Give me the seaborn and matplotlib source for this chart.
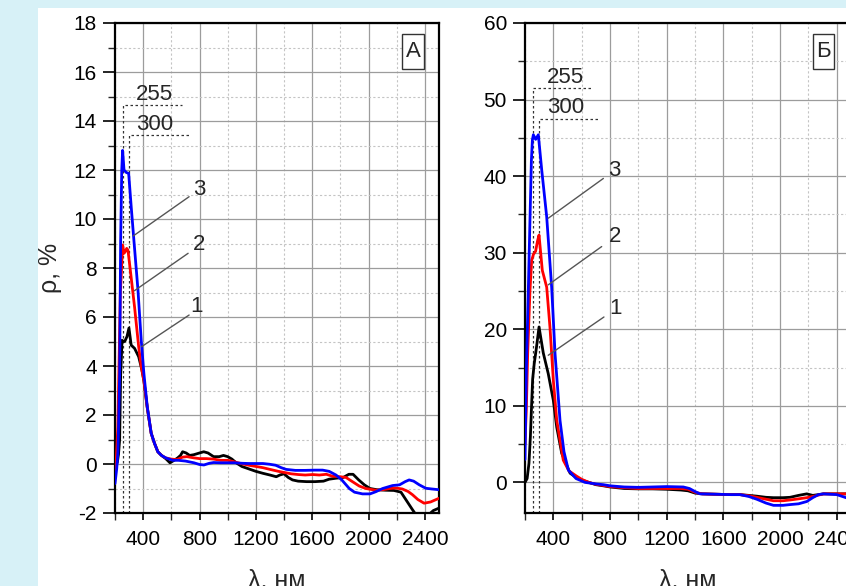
import numpy as np
import pandas as pd
import matplotlib
matplotlib.use("Agg")
import matplotlib.pyplot as plt
from matplotlib.patches import Rectangle
from matplotlib.ticker import MultipleLocator
import seaborn as sns

# ---- Spectra, panel А (ρ, %) ----
wl_a1 = [200, 216, 225, 233, 240, 250, 260, 269, 285, 299, 315, 339, 368, 391, 405, 429, 457, 480,
         504, 530, 560, 590, 620, 645, 665, 680, 705, 730, 760, 800, 830, 860, 900, 940, 970, 1000,
         1030, 1060, 1100, 1150, 1200, 1250, 1300, 1345, 1370, 1400, 1430, 1460, 1500, 1560, 1620,
         1680, 1720, 1770, 1820, 1860, 1890, 1930, 1970, 2010, 2060, 2120, 2180, 2230, 2270, 2310,
         2340, 2370, 2400, 2430, 2460, 2500]
rho_a1 = [0.05, 0.05, 0.4, 1.0, 3.6, 5.05, 5.0, 5.0, 5.2, 5.55, 4.85, 4.72, 4.38, 3.84, 3.4, 2.3, 1.25,
          0.85, 0.5, 0.35, 0.22, 0.05, 0.15, 0.25, 0.35, 0.5, 0.45, 0.35, 0.38, 0.45, 0.5, 0.45, 0.3,
          0.3, 0.35, 0.3, 0.2, 0.05, -0.1, -0.2, -0.3, -0.38, -0.45, -0.52, -0.45, -0.4, -0.55, -0.65,
          -0.7, -0.72, -0.72, -0.7, -0.62, -0.58, -0.55, -0.42, -0.42, -0.65, -0.85, -1.0, -1.05,
          -1.07, -1.08, -1.15, -1.5, -1.85, -2.1, -2.3, -2.35, -2.05, -1.9, -1.8]

wl_a2 = [200, 210, 220, 230, 238, 245, 254, 264, 273, 283, 292, 311, 339, 368, 386, 405, 429, 457, 480,
         504, 530, 560, 600, 640, 680, 710, 760, 800, 850, 900, 950, 1000, 1040, 1085, 1150, 1200,
         1250, 1300, 1360, 1415, 1450, 1500, 1550, 1603, 1650, 1700, 1745, 1800, 1840, 1880, 1934,
         1980, 2052, 2100, 2150, 2193, 2240, 2280, 2311, 2350, 2394, 2440, 2500]
rho_a2 = [-0.3, 0.3, 1.5, 4.5, 7.0, 7.8, 8.94, 8.6, 8.67, 8.8, 8.73, 7.8, 6.4, 4.79, 3.98, 3.4, 2.3,
          1.25, 0.85, 0.5, 0.35, 0.25, 0.2, 0.18, 0.28, 0.3, 0.25, 0.22, 0.22, 0.2, 0.15, 0.15, 0.1,
          0.03, -0.05, -0.1, -0.15, -0.22, -0.3, -0.36, -0.4, -0.43, -0.45, -0.43, -0.45, -0.42,
          -0.5, -0.52, -0.55, -0.7, -0.9, -1.0, -1.07, -1.05, -1.0, -0.98, -1.02, -1.12, -1.25,
          -1.45, -1.6, -1.55, -1.4]

wl_a3 = [200, 212, 221, 227, 233, 240, 248, 254, 264, 280, 297, 315, 334, 363, 386, 405, 429, 457, 480,
         504, 530, 560, 610, 650, 700, 760, 800, 831, 870, 900, 950, 1000, 1050, 1100, 1150, 1200,
         1250, 1297, 1340, 1380, 1415, 1480, 1550, 1620, 1674, 1720, 1769, 1810, 1863, 1900, 1957,
         2010, 2052, 2100, 2170, 2220, 2260, 2288, 2320, 2360, 2406, 2450, 2500]
rho_a3 = [-0.8, -0.2, 0.5, 2.0, 3.7, 9.1, 12.0, 12.8, 12.0, 11.9, 11.86, 10.5, 9.14, 7.1, 5.06, 3.7,
          2.34, 1.26, 0.85, 0.5, 0.35, 0.25, 0.15, 0.15, 0.12, 0.05, -0.02, -0.04, 0.03, 0.06, 0.05,
          0.05, 0.05, 0.03, 0.02, 0.02, 0.02, -0.01, -0.05, -0.15, -0.22, -0.26, -0.26, -0.25, -0.25,
          -0.3, -0.45, -0.65, -1.0, -1.15, -1.22, -1.22, -1.13, -1.0, -0.88, -0.85, -0.72, -0.65,
          -0.7, -0.85, -0.99, -1.02, -1.05]

# ---- Spectra, panel Б (ρ, %) ----
wl_b1 = [200, 215, 228, 238, 247, 254, 265, 280, 299, 329, 364, 400, 424, 459, 518, 565, 600, 650, 700,
         753, 800, 850, 900, 1000, 1100, 1200, 1300, 1350, 1400, 1450, 1550, 1650, 1717, 1780, 1835,
         1900, 1953, 2020, 2070, 2130, 2188, 2230, 2270, 2306, 2400, 2465, 2500]
rho_b1 = [0.0, 0.5, 2.5, 6.0, 10.3, 13.5, 15.5, 17.5, 20.3, 16.9, 14.2, 10.7, 7.2, 3.8, 1.2, 0.6, 0.3,
          0.0, -0.3, -0.45, -0.6, -0.7, -0.8, -0.85, -0.85, -0.9, -1.0, -1.1, -1.4, -1.5, -1.55,
          -1.6, -1.6, -1.7, -1.8, -1.95, -2.0, -2.0, -1.95, -1.7, -1.5, -1.7, -1.6, -1.5, -1.5,
          -1.5, -1.6]

wl_b2 = [200, 210, 219, 235, 247, 260, 275, 288, 299, 322, 353, 376, 400, 424, 470, 510, 565, 600, 650,
         700, 753, 800, 900, 1000, 1100, 1200, 1300, 1350, 1400, 1450, 1550, 1650, 1717, 1780, 1835,
         1900, 1953, 2020, 2070, 2130, 2188, 2240, 2306, 2400, 2465, 2500]
rho_b2 = [5.0, 10.0, 16.9, 25.0, 29.0, 29.8, 30.2, 31.5, 32.3, 27.7, 25.5, 20.3, 13.3, 8.1, 2.9, 1.5,
          0.8, 0.4, 0.0, -0.25, -0.4, -0.55, -0.7, -0.8, -0.8, -0.8, -0.8, -0.9, -1.3, -1.5, -1.55,
          -1.6, -1.6, -1.75, -1.95, -2.2, -2.4, -2.4, -2.3, -2.15, -2.0, -1.8, -1.5, -1.5, -1.5, -1.6]

wl_b3 = [200, 210, 222, 235, 245, 252, 259, 275, 294, 318, 353, 388, 412, 447, 475, 506, 560, 623, 700,
         753, 800, 900, 1000, 1100, 1200, 1317, 1360, 1400, 1435, 1550, 1650, 1717, 1780, 1835, 1900,
         1953, 2020, 2070, 2130, 2188, 2230, 2270, 2306, 2400, 2465, 2500]
rho_b3 = [3.0, 15.0, 24.0, 34.2, 42.0, 44.7, 45.4, 44.8, 45.4, 40.8, 34.7, 25.5, 16.8, 8.1, 4.0, 1.6,
          0.5, 0.0, -0.2, -0.3, -0.45, -0.6, -0.65, -0.6, -0.55, -0.6, -0.8, -1.2, -1.5, -1.55, -1.6,
          -1.6, -1.85, -2.2, -2.7, -3.0, -3.0, -2.9, -2.8, -2.5, -2.0, -1.6, -1.5, -1.6, -2.0, -2.1]

curve_names = ["1", "2", "3"]
curve_colors = {"1": "#000000", "2": "#ff0000", "3": "#0000ff"}
peak_wl = [255, 300]
peak_labels = ["255", "300"]


def long_form(wls, rhos):
    parts = [pd.DataFrame({"wl": w, "rho": r, "curve": n}) for w, r, n in zip(wls, rhos, curve_names)]
    return pd.concat(parts, ignore_index=True)


df_a = long_form([wl_a1, wl_a2, wl_a3], [rho_a1, rho_a2, rho_a3])
df_b = long_form([wl_b1, wl_b2, wl_b3], [rho_b1, rho_b2, rho_b3])

sns.set_style("ticks")
plt.rcParams["font.family"] = ["Liberation Sans", "DejaVu Sans"]
plt.rcParams["axes.unicode_minus"] = False

W, H = 846, 586
fig = plt.figure(figsize=(W / 100, H / 100), dpi=100)
fig.patch.set_facecolor("#d7f1f7")
fig.add_artist(Rectangle((38 / W, 0), 1, (H - 8) / H, transform=fig.transFigure,
                         facecolor="white", edgecolor="none", zorder=-5))

ax_a = fig.add_axes([115 / W, (H - 513) / H, 324 / W, 490 / H])
ax_b = fig.add_axes([525 / W, (H - 513) / H, 326 / W, 490 / H])


def style_axes(ax, ylim, ymajor, yminor):
    ax.set_xlim(200, 2500)
    ax.set_ylim(*ylim)
    ax.xaxis.set_major_locator(MultipleLocator(400))
    ax.xaxis.set_minor_locator(MultipleLocator(200))
    ax.yaxis.set_major_locator(MultipleLocator(ymajor))
    ax.yaxis.set_minor_locator(MultipleLocator(yminor))
    ax.set_axisbelow(True)
    ax.grid(which="major", color="#9c9c9c", lw=0.9, ls="-")
    ax.grid(which="minor", color="#c4c4c4", lw=0.8, ls=(0, (2, 2)))
    for s in ax.spines.values():
        s.set_color("black")
        s.set_linewidth(1.6)
    ax.tick_params(axis="y", which="major", direction="out", length=9, width=1.2,
                   labelsize=15, pad=4, colors="black")
    ax.tick_params(axis="y", which="minor", direction="out", length=5, width=1.0)
    ax.tick_params(axis="x", which="major", direction="out", length=5, width=1.2,
                   labelsize=15, pad=7, colors="black")
    ax.tick_params(axis="x", which="minor", direction="out", length=5, width=1.0)
    ax.set_facecolor("white")


def draw_panel(ax, df, ylim, ymajor, yminor, letter, box, peak_tops, peak_ends,
               peak_text, num_text, leaders):
    sns.lineplot(data=df, x="wl", y="rho", hue="curve", hue_order=curve_names,
                 palette=curve_colors, estimator=None, sort=False, lw=2.0,
                 legend=False, ax=ax, zorder=3)
    style_axes(ax, ylim, ymajor, yminor)
    ax.set_xlabel("λ, нм", fontsize=18, labelpad=14)
    ax.set_ylabel("")

    # dotted markers for the short-wave maxima
    for wl, top, end, lab, (tx, ty) in zip(peak_wl, peak_tops, peak_ends, peak_labels, peak_text):
        ax.plot([wl, wl, end], [ylim[0], top, top], color="#333333", lw=0.9,
                ls=(0, (2, 2)), zorder=2)
        ax.text(tx, ty, lab, fontsize=16, ha="center", va="baseline")

    # curve numbers with leader lines
    for n, (tx, ty), (x0, y0, x1, y1) in zip(curve_names[::-1], num_text, leaders):
        ax.plot([x0, x1], [y0, y1], color="#555555", lw=1.0, zorder=4)
        ax.text(tx, ty, n, fontsize=16, ha="center", va="baseline")

    bx, by, bw, bh = box
    ax.add_patch(Rectangle((bx, by), bw, bh, transform=ax.transAxes, facecolor="white",
                           edgecolor="#333333", lw=1.0, zorder=5))
    ax.text(bx + bw / 2, by + bh / 2, letter, transform=ax.transAxes, fontsize=16,
            ha="center", va="center", zorder=6)


draw_panel(ax_a, df_a, (-2, 18), 2, 1, "А", (0.886, 0.906, 0.068, 0.072),
           peak_tops=[14.64, 13.42], peak_ends=[679, 726],
           peak_text=[(483, 14.86), (485, 13.63)],
           num_text=[(796, 10.98), (795, 8.73), (778, 6.22)],
           leaders=[(726, 10.91, 330, 9.31), (719, 8.6, 337, 7.07), (726, 6.08, 389, 4.79)])
ax_a.set_ylabel("ρ, %", fontsize=18, labelpad=8)

draw_panel(ax_b, df_b, (-4, 60), 10, 5, "Б", (0.883, 0.906, 0.065, 0.072),
           peak_tops=[51.5, 47.5], peak_ends=[678, 724],
           peak_text=[(482, 52.2), (489, 48.2)],
           num_text=[(827, 40.0), (833, 31.4), (835, 22.05)],
           leaders=[(753, 39.7, 364, 34.5), (741, 30.8, 364, 25.8), (757, 21.6, 364, 16.6)])

fig.savefig("out.png", dpi=100, facecolor=fig.get_facecolor())
